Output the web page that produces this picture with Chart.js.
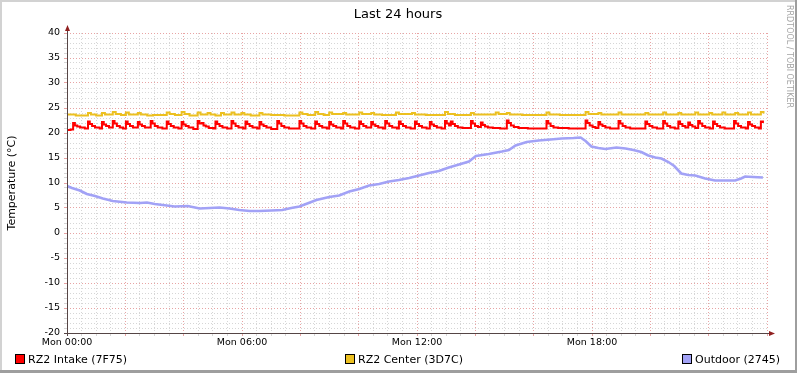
<!DOCTYPE html>
<html>
<head>
<meta charset="utf-8">
<script src="https://cdn.jsdelivr.net/npm/chart.js@4/dist/chart.umd.min.js"></script>
<style>
  html, body { margin: 0; padding: 0; background: #fff; }
  #wrap { width: 797px; height: 373px; }
</style>
</head>
<body>
<div id="wrap"><canvas id="tempChart" width="797" height="373"></canvas></div>
<script>
// x axis in hours since Mon 00:00
const xTickHours = [0, 6, 12, 18];
const xTickLabels = ['Mon 00:00', 'Mon 06:00', 'Mon 12:00', 'Mon 18:00'];
const seriesNames = ['RZ2 Intake (7F75)', 'RZ2 Center (3D7C)', 'Outdoor (2745)'];

// RZ2 Intake (7F75)
const intakeHours = [
  0.00, 0.12,
  0.21, 0.27, 0.35, 0.45, 0.61,
  0.72, 0.78, 0.86, 0.96, 1.12,
  1.20, 1.26, 1.34, 1.44,
  1.57, 1.63, 1.71, 1.81, 1.92,
  2.02, 2.08, 2.16, 2.26,
  2.43, 2.49, 2.57, 2.67,
  2.87, 2.93, 3.01, 3.11, 3.27,
  3.42, 3.48, 3.56, 3.66, 3.82,
  3.93, 3.99, 4.07, 4.17, 4.33,
  4.48, 4.54, 4.62, 4.68, 4.76, 4.86, 5.02,
  5.09, 5.15, 5.23, 5.33, 5.49,
  5.64, 5.70, 5.78, 5.88, 6.04,
  6.12, 6.18, 6.26, 6.36, 6.52,
  6.60, 6.66, 6.74, 6.84, 7.00,
  7.21, 7.27, 7.35, 7.45, 7.61,
  7.97, 8.03, 8.11, 8.21, 8.37,
  8.51, 8.57, 8.65, 8.75, 8.91,
  8.99, 9.05, 9.13, 9.23, 9.39,
  9.47, 9.53, 9.61, 9.71, 9.87,
  10.02, 10.08, 10.16, 10.26,
  10.43, 10.49, 10.57, 10.67, 10.83,
  10.91, 10.97, 11.05, 11.15, 11.31,
  11.38, 11.44, 11.52, 11.62, 11.78,
  11.93, 11.99, 12.07, 12.17, 12.33,
  12.44, 12.50, 12.58, 12.68, 12.84,
  12.96, 13.02, 13.10, 13.16, 13.22, 13.30, 13.40, 13.56,
  13.85, 13.91, 13.99, 14.09, 14.19, 14.25, 14.33, 14.43, 14.60, 14.85,
  15.08, 15.14, 15.22, 15.32, 15.48, 15.80,
  16.44, 16.50, 16.58, 16.68, 16.84, 17.20,
  17.78, 17.84, 17.92, 18.02, 18.12,
  18.22, 18.28, 18.36, 18.46, 18.62,
  18.91, 18.97, 19.05, 19.15, 19.31,
  19.83, 19.89, 19.97, 20.07, 20.23,
  20.44, 20.50, 20.58, 20.68, 20.84,
  20.96, 21.02, 21.10, 21.20,
  21.30, 21.36, 21.44, 21.54,
  21.64, 21.70, 21.78, 21.88, 22.04,
  22.15, 22.21, 22.29, 22.39, 22.55,
  22.87, 22.93, 23.01, 23.11, 23.27,
  23.35, 23.41, 23.49, 23.59, 23.72,
  23.79, 23.86
];
const intakeTemp = [
  20.6, 20.7,
  22.0, 21.5, 21.3, 21.1, 20.9,
  22.3, 21.8, 21.4, 21.1, 20.9,
  22.2, 21.7, 21.4, 21.1,
  22.4, 21.9, 21.4, 21.1, 20.9,
  22.3, 21.8, 21.4, 21.1,
  22.2, 21.7, 21.4, 21.1,
  22.4, 21.9, 21.4, 21.1, 20.9,
  22.3, 21.8, 21.4, 21.1, 20.9,
  22.2, 21.7, 21.4, 21.1, 20.8,
  22.4, 21.9, 22.0, 21.5, 21.3, 21.0, 20.9,
  22.3, 21.8, 21.4, 21.1, 20.9,
  22.4, 21.9, 21.4, 21.1, 20.9,
  22.3, 21.8, 21.4, 21.1, 20.9,
  22.2, 21.7, 21.4, 21.1, 20.8,
  22.4, 21.9, 21.4, 21.1, 20.9,
  22.4, 21.9, 21.4, 21.1, 20.9,
  22.3, 21.8, 21.4, 21.1, 20.9,
  22.2, 21.7, 21.4, 21.1, 20.9,
  22.4, 21.9, 21.4, 21.1, 20.9,
  22.3, 21.8, 21.4, 21.1,
  22.2, 21.7, 21.4, 21.1, 20.9,
  22.4, 21.9, 21.4, 21.1, 20.9,
  22.3, 21.8, 21.4, 21.1, 20.9,
  22.3, 21.8, 21.4, 21.1, 20.9,
  22.2, 21.7, 21.4, 21.1, 20.9,
  22.4, 21.9, 21.5, 22.3, 21.8, 21.4, 21.1, 21.0,
  22.4, 21.9, 21.4, 21.2, 22.1, 21.6, 21.3, 21.1, 21.0, 20.9,
  22.5, 22.0, 21.5, 21.2, 21.0, 20.9,
  22.4, 21.9, 21.4, 21.1, 21.0, 20.9,
  22.5, 22.0, 21.5, 21.2, 21.0,
  22.2, 21.7, 21.4, 21.1, 20.9,
  22.4, 21.9, 21.4, 21.1, 20.9,
  22.3, 21.8, 21.4, 21.1, 20.9,
  22.4, 21.9, 21.4, 21.1, 20.9,
  22.3, 21.8, 21.4, 21.1,
  22.1, 21.6, 21.3, 21.0,
  22.4, 21.9, 21.4, 21.1, 20.9,
  22.3, 21.8, 21.4, 21.1, 20.9,
  22.4, 21.9, 21.4, 21.1, 20.9,
  22.2, 21.7, 21.4, 21.1, 20.9,
  22.3, 22.0
];

// RZ2 Center (3D7C)
const centerHours = [
  0.00, 0.30, 0.72, 0.82, 1.00, 1.20, 1.30, 1.57, 1.67, 1.85, 2.02, 2.12, 2.43,
  2.53, 2.75, 2.95, 3.42, 3.52, 3.70, 3.93, 4.03, 4.20, 4.48, 4.58, 4.82, 4.92,
  5.09, 5.28, 5.38, 5.64, 5.74, 5.98, 6.08, 6.30, 6.60, 6.70, 7.00, 7.45, 7.97,
  8.07, 8.25, 8.51, 8.61, 8.80, 8.99, 9.09, 9.47, 9.57, 10.02, 10.12, 10.43,
  10.53, 10.80, 11.28, 11.38, 11.83, 11.93, 12.30, 12.96, 13.06, 13.30, 13.85,
  13.95, 14.70, 14.80, 15.08, 15.18, 15.60, 16.44, 16.54, 16.90, 17.78, 17.88,
  18.22, 18.32, 18.91, 19.01, 19.83, 19.93, 20.44, 20.54, 20.96, 21.06, 21.54,
  21.64, 22.02, 22.12, 22.47, 22.57, 22.91, 23.01, 23.35, 23.45, 23.79, 23.88
];
const centerTemp = [
  23.7, 23.5, 24.0, 23.7, 23.5, 24.0, 23.7, 24.2, 23.8, 23.6, 24.1, 23.7, 24.0,
  23.7, 23.5, 23.6, 24.1, 23.8, 23.6, 24.2, 23.8, 23.5, 24.1, 23.7, 24.0, 23.7,
  23.5, 24.0, 23.7, 24.1, 23.7, 24.0, 23.7, 23.5, 24.0, 23.7, 23.6, 23.5, 24.1,
  23.8, 23.6, 24.2, 23.8, 23.6, 24.1, 23.8, 24.0, 23.7, 24.1, 23.8, 24.0,
  23.7, 23.6, 24.1, 23.8, 24.0, 23.7, 23.6, 24.2, 23.8, 23.6, 24.0,
  23.7, 24.1, 23.8, 24.0, 23.7, 23.6, 24.1, 23.7, 23.6, 24.2, 23.8,
  24.0, 23.7, 24.1, 23.7, 24.0, 23.7, 24.1, 23.7, 24.0, 23.7, 24.1,
  23.7, 24.0, 23.7, 24.1, 23.7, 24.0, 23.7, 24.1, 23.7, 24.2, 23.9
];

// Outdoor (2745)
const outdoorHours = [
  0.00, 0.17, 0.44, 0.68, 0.96, 1.23, 1.57, 2.05, 2.50, 2.74, 3.01, 3.42, 3.69,
  4.14, 4.55, 4.89, 5.23, 5.57, 5.91, 6.26, 6.60, 7.01, 7.38, 7.69, 7.97, 8.24,
  8.55, 8.99, 9.33, 9.68, 10.02, 10.36, 10.70, 11.04, 11.38, 11.73, 12.07, 12.41,
  12.75, 13.09, 13.44, 13.78, 14.02, 14.46, 14.91, 15.15, 15.38, 15.76, 16.17,
  16.58, 16.96, 17.37, 17.61, 17.78, 17.98, 18.22, 18.46, 18.84, 19.15, 19.42,
  19.69, 19.93, 20.17, 20.38, 20.62, 20.82, 21.06, 21.30, 21.54, 21.88, 22.22,
  22.56, 22.91, 23.11, 23.25, 23.52, 23.86
];
const outdoorTemp = [
  9.4, 9.0, 8.5, 7.8, 7.4, 6.9, 6.4, 6.1, 6.0, 6.1, 5.8, 5.5, 5.3,
  5.4, 4.9, 5.0, 5.1, 4.9, 4.6, 4.4, 4.4, 4.5, 4.6, 5.0, 5.3, 5.9,
  6.6, 7.2, 7.5, 8.3, 8.8, 9.5, 9.8, 10.3, 10.6, 11.0, 11.5, 12.0,
  12.4, 13.1, 13.7, 14.3, 15.4, 15.8, 16.3, 16.6, 17.5, 18.2, 18.5,
  18.7, 18.9, 19.0, 19.1, 18.4, 17.3, 17.0, 16.8, 17.1, 16.9, 16.6,
  16.2, 15.5, 15.1, 14.9, 14.2, 13.4, 11.9, 11.6, 11.5, 10.9, 10.5,
  10.5, 10.5, 10.9, 11.3, 11.2, 11.1
];

const FONT = '"DejaVu Sans", sans-serif';
const MAJOR = '#e8a4a4';
const MINOR = '#d6d6d6';
const colors = ['#ff0000', '#ecc020', '#a2a2f6'];

function pts(hours, temps) {
  return hours.map((h, i) => ({ x: h, y: temps[i] }));
}

// frame, title, axis arrows, legend and watermark in rrdtool style
const rrdDecor = {
  id: 'rrdDecor',
  beforeDraw(chart) {
    const c = chart.ctx, w = chart.width, h = chart.height;
    c.save();
    c.fillStyle = '#ffffff';
    c.fillRect(0, 0, w, h);
    c.fillStyle = '#d2d2d2';
    c.fillRect(0, 0, w, 2);
    c.fillRect(0, 0, 2, h);
    c.fillStyle = '#9e9e9e';
    c.fillRect(w - 2, 0, 2, h);
    c.fillRect(0, h - 3, w, 3);
    c.restore();
  },
  afterDraw(chart) {
    const c = chart.ctx, a = chart.chartArea;
    c.save();
    // axes
    c.strokeStyle = '#554545';
    c.lineWidth = 1;
    c.beginPath();
    c.moveTo(a.left - 3, a.bottom + 0.5);
    c.lineTo(a.right + 3, a.bottom + 0.5);
    c.moveTo(a.left + 0.5, a.bottom + 3);
    c.lineTo(a.left + 0.5, a.top - 3);
    c.stroke();
    c.fillStyle = '#902020';
    c.beginPath();
    c.moveTo(a.right + 2, a.bottom - 2);
    c.lineTo(a.right + 8, a.bottom + 0.5);
    c.lineTo(a.right + 2, a.bottom + 3);
    c.closePath();
    c.fill();
    c.beginPath();
    c.moveTo(a.left - 2, a.top - 2);
    c.lineTo(a.left + 0.5, a.top - 8);
    c.lineTo(a.left + 3, a.top - 2);
    c.closePath();
    c.fill();

    // title
    c.fillStyle = '#000';
    c.font = '13px ' + FONT;
    c.textAlign = 'center';
    c.textBaseline = 'alphabetic';
    c.fillText('Last 24 hours', 398, 18);

    // y axis label
    c.save();
    c.translate(15, 183);
    c.rotate(-Math.PI / 2);
    c.font = '11px ' + FONT;
    c.fillText('Temperature (°C)', 0, 0);
    c.restore();

    // watermark
    c.save();
    c.translate(789.5, 5);
    c.rotate(Math.PI / 2);
    c.font = '8px ' + FONT;
    c.fillStyle = '#a4a4a4';
    c.textAlign = 'left';
    c.textBaseline = 'middle';
    c.fillText('RRDTOOL / TOBI OETIKER', 0, 0);
    c.restore();

    // legend
    const boxX = [15, 345, 682];
    c.font = '11px ' + FONT;
    c.textAlign = 'left';
    seriesNames.forEach((name, i) => {
      c.fillStyle = colors[i];
      c.fillRect(boxX[i] + 0.5, 354.5, 9, 9);
      c.strokeStyle = '#000';
      c.strokeRect(boxX[i] + 0.5, 354.5, 9, 9);
      c.fillStyle = '#000';
      c.fillText(name, boxX[i] + 13, 363);
    });
    c.restore();
  }
};

new Chart(document.getElementById('tempChart'), {
  type: 'line',
  data: {
    datasets: [
      { label: seriesNames[0], data: pts(intakeHours, intakeTemp), borderColor: colors[0], stepped: true },
      { label: seriesNames[1], data: pts(centerHours, centerTemp), borderColor: colors[1], stepped: true },
      { label: seriesNames[2], data: pts(outdoorHours, outdoorTemp), borderColor: colors[2], stepped: false, borderWidth: 2.6 }
    ]
  },
  options: {
    responsive: false,
    maintainAspectRatio: false,
    animation: false,
    devicePixelRatio: 1,
    layout: { padding: { left: 0, right: 30, top: 33, bottom: 0 } },
    elements: {
      point: { radius: 0 },
      line: { borderWidth: 2, tension: 0, fill: false, borderCapStyle: 'butt' }
    },
    plugins: {
      legend: { display: false },
      title: { display: false },
      tooltip: { enabled: false }
    },
    scales: {
      x: {
        type: 'linear',
        min: 0,
        max: 24,
        afterFit: s => { s.height = 40; },
        border: { display: false, dash: [1, 2] },
        grid: {
          color: ctx => (ctx.tick && ctx.tick.value % 2 === 0 ? MAJOR : MINOR),
          tickColor: ctx => (ctx.tick && ctx.tick.value % 2 === 0 ? MAJOR : MINOR),
          tickLength: 3,
          drawTicks: true
        },
        ticks: {
          stepSize: 0.5,
          maxTicksLimit: 1000,
          autoSkip: false,
          maxRotation: 0,
          padding: 1,
          color: '#000',
          font: { family: FONT, size: 9.5 },
          callback: v => {
            const i = xTickHours.indexOf(v);
            return i < 0 ? '' : xTickLabels[i];
          }
        }
      },
      y: {
        min: -20,
        max: 40,
        afterFit: s => { s.width = 67; },
        border: { display: false, dash: [1, 2] },
        grid: {
          color: ctx => (ctx.tick && ctx.tick.value % 5 === 0 ? MAJOR : MINOR),
          tickColor: ctx => (ctx.tick && ctx.tick.value % 5 === 0 ? MAJOR : MINOR),
          tickLength: 3,
          drawTicks: true
        },
        ticks: {
          stepSize: 1,
          maxTicksLimit: 1000,
          autoSkip: false,
          padding: 4,
          color: '#000',
          font: { family: FONT, size: 9.5 },
          callback: v => (v % 5 === 0 ? String(v) : '')
        }
      }
    }
  },
  plugins: [rrdDecor]
});
</script>
</body>
</html>
